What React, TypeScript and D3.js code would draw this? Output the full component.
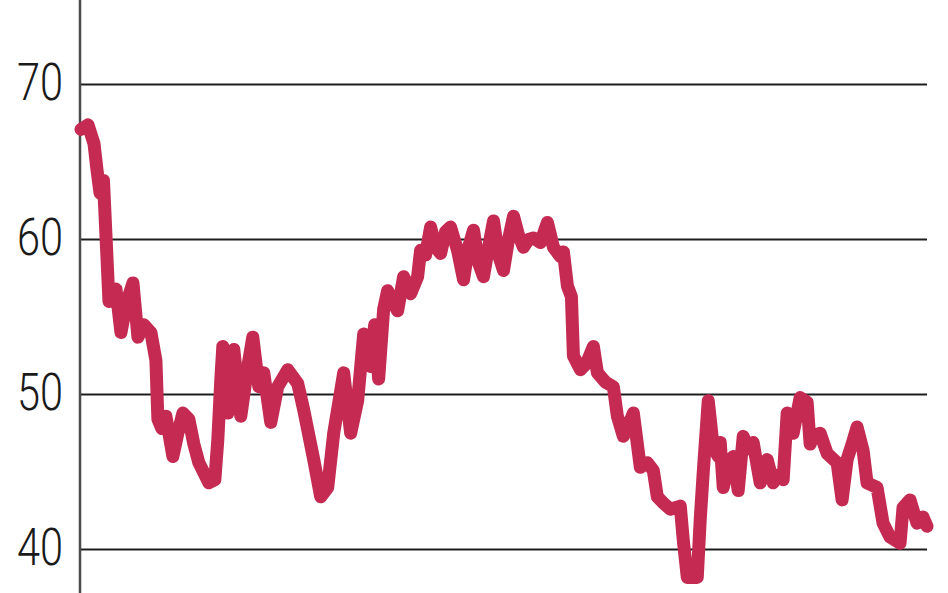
import React from "react";
import * as d3 from "d3";

// Data (time index in days, value)
const days = [
  0, 7, 13, 16, 19, 22.5, 28, 35, 40, 46, 52, 57, 63, 70, 75, 77, 81, 85, 92, 97, 102, 108, 113, 118, 128, 134,
  137, 140, 142, 147, 153, 160, 167, 172, 178, 183, 190, 197, 207, 217, 223, 233, 240, 247, 253, 263, 270, 277, 283,
  290, 294, 298, 303, 307, 312, 317, 323, 330, 337, 340, 345, 350, 355, 360, 365, 370, 377, 383, 388, 393, 398, 403,
  408, 413, 418, 423, 428, 433, 438, 443, 448, 453, 460, 467, 473, 480, 483, 487, 491, 493, 500, 506, 513, 517, 525,
  533, 537, 543, 548, 553, 560, 567, 573, 577, 583, 590, 600, 603, 607, 617, 620, 623, 628, 633, 638, 640, 643, 648,
  653, 658, 663, 668, 673, 680, 687, 693, 698, 703, 707, 713, 720, 727, 730, 733, 740, 747, 757, 762, 767, 772, 777,
  783, 787, 797, 803, 810, 820, 823, 830, 837, 843, 847,
];
const values = [
  67.1, 67.4, 66.2, 64.5, 63.0, 63.8, 56.0, 56.8, 54.0, 56.0, 57.2, 53.7, 54.5, 54.0, 52.2, 48.4, 47.8, 48.6,
  46.0, 47.5, 48.8, 48.4, 46.8, 45.6, 44.3, 44.5, 47.1, 51.0, 53.1, 48.8, 52.9, 48.6, 51.8, 53.7, 50.5, 51.4, 48.2,
  50.5, 51.6, 50.7, 49.0, 45.8, 43.4, 44.0, 47.5, 51.4, 47.5, 49.6, 53.9, 51.8, 54.5, 51.0, 55.5, 56.7, 56.0, 55.4,
  57.6, 56.5, 57.6, 59.3, 59.0, 60.8, 59.5, 59.1, 60.5, 60.8, 59.3, 57.4, 59.5, 60.6, 58.5, 57.6, 59.5, 61.2, 59.0,
  58.0, 60.0, 61.5, 60.3, 59.5, 60.0, 60.1, 59.8, 61.1, 59.5, 58.9, 59.2, 57.0, 56.3, 52.5, 51.6, 52.0, 53.1, 51.4,
  50.8, 50.5, 48.6, 47.3, 48.0, 48.8, 45.3, 45.6, 45.1, 43.4, 43.0, 42.6, 42.8, 40.6, 38.2, 38.2, 42.0, 45.0, 49.6,
  46.6, 46.0, 46.9, 44.0, 45.5, 46.0, 43.8, 47.3, 46.5, 46.9, 44.3, 45.8, 44.3, 44.8, 44.5, 48.8, 47.5, 49.8, 49.5,
  46.8, 47.3, 47.5, 46.2, 45.6, 43.2, 45.8, 46.8, 47.9, 46.4, 44.3, 44.0, 41.7, 40.8, 40.4, 42.7, 43.2, 41.7, 42.1,
  41.5,
];
const yTicks = [40, 50, 60, 70];

const W = 948;
const H = 593;

export default function App() {
  const data = days
    .map((d, i) => ({ d, v: values[i] }))
    .sort((a, b) => a.d - b.d);

  const x = d3.scaleLinear().domain([0, 847]).range([81, 927]);
  const y = d3.scaleLinear().domain([40, 70]).range([549.5, 84.5]);

  const line = d3
    .line<{ d: number; v: number }>()
    .x((p) => x(p.d))
    .y((p) => y(p.v))
    .curve(d3.curveLinear);

  return (
    <div style={{ position: "fixed", left: 0, top: 0, width: W, height: H, background: "#fff" }}>
      <svg width={W} height={H} style={{ display: "block" }}>
        <rect width={W} height={H} fill="#ffffff" />
        {yTicks.map((t) => (
          <g key={t}>
            <line x1={81} x2={927} y1={y(t)} y2={y(t)} stroke="#1e1e1e" strokeWidth={2.2} />
            <text
              x={63}
              y={y(t) + 15}
              textAnchor="end"
              fontFamily="Roboto, 'DejaVu Sans', sans-serif"
              fontWeight={300}
              fontSize={52}
              textLength={46}
              lengthAdjust="spacingAndGlyphs"
              fill="#1a1a1a"
            >
              {t}
            </text>
          </g>
        ))}
        <line x1={80} x2={80} y1={0} y2={H} stroke="#4a4a4a" strokeWidth={2.5} />
        <path
          d={line(data) || ""}
          fill="none"
          stroke="#c42a52"
          strokeWidth={13}
          strokeLinejoin="round"
          strokeLinecap="round"
        />
      </svg>
    </div>
  );
}
